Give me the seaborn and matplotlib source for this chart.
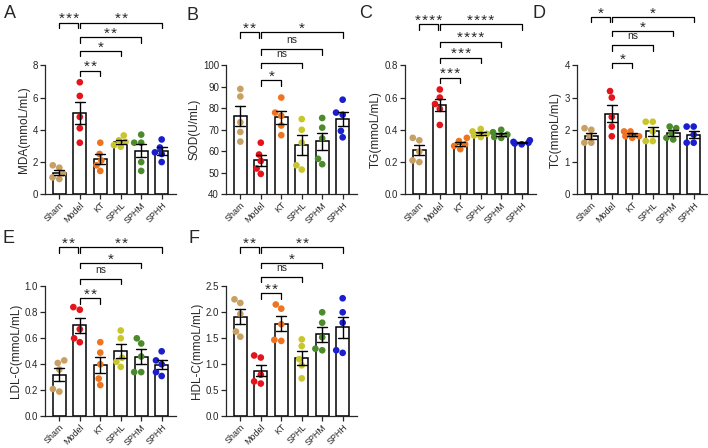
import numpy as np
import pandas as pd
import matplotlib
matplotlib.use("Agg")
import matplotlib.pyplot as plt
import matplotlib.transforms as mtransforms
import seaborn as sns

groups = ["Sham", "Model", "KT", "SPHL", "SPHM", "SPHH"]
colors = ["#C9A063", "#E5141B", "#EE7420", "#C8C62C", "#4C8B2B", "#1A1ECC"]

# values, 5 animals per group
mda = [[1.8, 1.65, 1.3, 1.05, 0.95],
       [6.95, 6.1, 4.8, 4.1, 3.2],
       [3.2, 2.5, 2.1, 1.8, 1.45],
       [3.65, 3.35, 3.25, 3.05, 2.95],
       [3.7, 3.2, 3.2, 2.0, 1.45],
       [3.4, 2.9, 2.6, 2.5, 2.0]]
sod = [[89, 85.5, 73.5, 69, 64.5],
       [64, 58.5, 55.5, 52, 49.5],
       [85, 78, 76.5, 72, 67.5],
       [75, 70, 64, 53.5, 51.5],
       [75.5, 71, 66, 56.5, 54],
       [84, 78, 77, 69.5, 66.5]]
tg = [[0.35, 0.335, 0.265, 0.21, 0.2],
      [0.65, 0.6, 0.56, 0.53, 0.43],
      [0.35, 0.33, 0.31, 0.3, 0.28],
      [0.405, 0.39, 0.375, 0.365, 0.355],
      [0.4, 0.385, 0.37, 0.355, 0.35],
      [0.335, 0.325, 0.32, 0.315, 0.31]]
tc = [[2.05, 2.0, 1.8, 1.6, 1.6],
      [3.2, 3.0, 2.4, 2.1, 1.8],
      [1.95, 1.95, 1.8, 1.8, 1.75],
      [2.25, 2.25, 1.95, 1.65, 1.65],
      [2.1, 2.05, 1.9, 1.75, 1.7],
      [2.1, 2.1, 1.85, 1.6, 1.6]]
ldl = [[0.43, 0.41, 0.36, 0.21, 0.19],
       [0.84, 0.82, 0.67, 0.6, 0.57],
       [0.57, 0.49, 0.4, 0.29, 0.24],
       [0.66, 0.6, 0.45, 0.42, 0.38],
       [0.6, 0.56, 0.46, 0.34, 0.34],
       [0.5, 0.43, 0.4, 0.34, 0.31]]
hdl = [[2.25, 2.18, 1.97, 1.63, 1.53],
       [1.17, 1.13, 0.8, 0.67, 0.63],
       [2.15, 2.07, 1.77, 1.47, 1.45],
       [1.48, 1.35, 1.1, 0.98, 0.73],
       [2.0, 1.8, 1.52, 1.3, 1.27],
       [2.27, 2.0, 1.8, 1.27, 1.22]]

# significance labels: Sham-Model, Model-KT, Model-SPHL, Model-SPHM, Model-SPHH
sig_a = ["***", "**", "*", "**", "**"]
sig_b = ["**", "*", "ns", "ns", "*"]
sig_c = ["****", "***", "***", "****", "****"]
sig_d = ["*", "*", "ns", "*", "*"]
sig_e = ["**", "**", "ns", "*", "**"]
sig_f = ["**", "**", "ns", "*", "**"]

sns.set_style("ticks")
plt.rcParams["font.family"] = ["Liberation Sans", "DejaVu Sans"]

fig = plt.figure(figsize=(7.08, 4.48), dpi=100)
W, H = 708, 448


def make_ax(x0, ybot, w, h):
    return fig.add_axes([x0 / W, (H - ybot) / H, w / W, h / H])


def bracket(ax, x1, x2, y, label):
    tr = mtransforms.blended_transform_factory(ax.transData, ax.transAxes)
    hh = 5.5 / ax.bbox.height
    ax.plot([x1, x1, x2, x2], [y - hh, y, y, y - hh], color="black", lw=0.9,
            transform=tr, clip_on=False)
    if "*" in label:
        ax.annotate("\u200a".join(label), xy=((x1 + x2) / 2, y), xycoords=tr,
                    xytext=(0, -0.5), textcoords="offset points", ha="center",
                    va="baseline", fontsize=11)
    else:
        ax.annotate(label, xy=((x1 + x2) / 2, y), xycoords=tr, xytext=(0, 4.3),
                    textcoords="offset points", ha="center", va="baseline",
                    fontsize=7.5)


def panel(ax, vals, ylabel, ylim, yticks, ytl, sig, levels, letter):
    df = pd.DataFrame({"group": np.repeat(groups, 5),
                       "value": np.concatenate(vals)})
    sns.barplot(data=df, x="group", y="value", order=groups, errorbar="se",
                capsize=0.5, color="white", edgecolor="black", linewidth=1.1,
                width=0.62, err_kws={"color": "black", "linewidth": 1.0},
                ax=ax)
    for ln in ax.lines:
        ln.set_zorder(4)
    sns.swarmplot(data=df, x="group", y="value", order=groups, hue="group",
                  palette=colors, size=4.8, legend=False, ax=ax, zorder=3,
                  warn_thresh=1)
    ax.set_xlim(-0.7, 5.7)
    ax.set_ylim(*ylim)
    ax.set_yticks(yticks)
    ax.set_yticklabels(ytl)
    ax.set_xlabel("")
    ax.set_ylabel(ylabel, fontsize=8.5, labelpad=2)
    ax.set_xticks(range(6))
    ax.set_xticklabels(groups, rotation=45, ha="right", rotation_mode="anchor",
                       fontsize=6.4)
    ax.tick_params(axis="y", labelsize=7, length=3.5, width=0.9, pad=1.5)
    ax.tick_params(axis="x", length=3.5, width=0.9, pad=1)
    for s in ["left", "bottom"]:
        ax.spines[s].set_linewidth(0.9)
    sns.despine(ax=ax)
    bracket(ax, 0, 0.93, levels[0], sig[0])
    bracket(ax, 1.03, 2, levels[4], sig[1])
    bracket(ax, 1.03, 3, levels[3], sig[2])
    bracket(ax, 1.03, 4, levels[2], sig[3])
    bracket(ax, 1.03, 5, levels[1], sig[4])
    ax.text(letter[1] / W, 1 - letter[2] / H, letter[0], transform=fig.transFigure,
            fontsize=13, ha="center", va="center")


ax_a = make_ax(45, 194.3, 131, 129)
panel(ax_a, mda, "MDA(mmoL/mL)", (0, 8), [0, 2, 4, 6, 8], ["0", "2", "4", "6", "8"],
      sig_a, [1.330, 1.330, 1.217, 1.111, 0.958], ("A", 10, 14))

ax_b = make_ax(226, 194.3, 131, 129)
panel(ax_b, sod, "SOD(U/mL)", (40, 100), [40, 50, 60, 70, 80, 90, 100],
      ["40", "50", "60", "70", "80", "90", "100"],
      sig_b, [1.256, 1.256, 1.124, 1.020, 0.886], ("B", 193, 15))

ax_c = make_ax(405, 194.3, 131, 129)
panel(ax_c, tg, "TG(mmoL/mL)", (0, 0.8), [0, 0.2, 0.4, 0.6, 0.8],
      ["0.0", "0.2", "0.4", "0.6", "0.8"],
      sig_c, [1.320, 1.320, 1.183, 1.059, 0.904], ("C", 366, 14))

ax_d = make_ax(577, 194.3, 131, 129)
panel(ax_d, tc, "TC(mmoL/mL)", (0, 4), [0, 1, 2, 3, 4], ["0", "1", "2", "3", "4"],
      sig_d, [1.377, 1.377, 1.266, 1.157, 1.020], ("D", 539, 13))

ax_e = make_ax(45, 416.3, 131, 130)
panel(ax_e, ldl, "LDL-C(mmoL/mL)", (0, 1.0), [0, 0.2, 0.4, 0.6, 0.8, 1.0],
      ["0.0", "0.2", "0.4", "0.6", "0.8", "1.0"],
      sig_e, [1.302, 1.302, 1.182, 1.059, 0.908], ("E", 8, 238))

ax_f = make_ax(226, 416.3, 131, 130)
panel(ax_f, hdl, "HDL-C(mmoL/mL)", (0, 2.5), [0, 0.5, 1.0, 1.5, 2.0, 2.5],
      ["0.0", "0.5", "1.0", "1.5", "2.0", "2.5"],
      sig_f, [1.302, 1.302, 1.182, 1.075, 0.946], ("F", 194, 238))

fig.savefig("out.png", dpi=100)
